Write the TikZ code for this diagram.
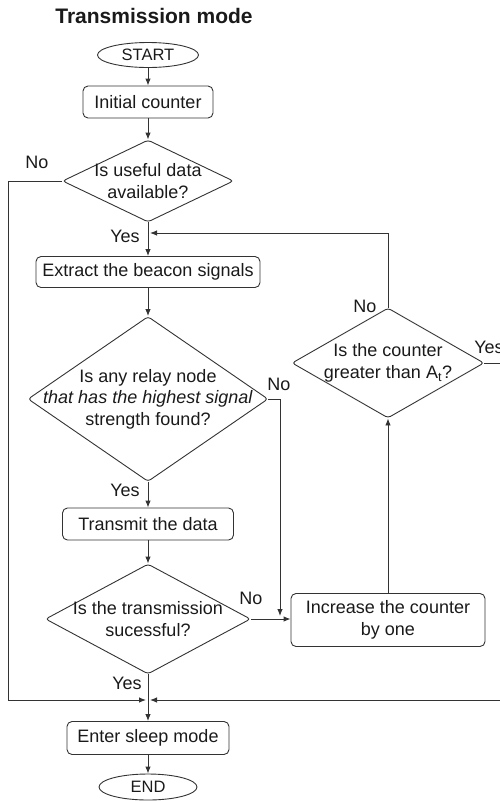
\documentclass[tikz,border=0pt]{standalone}
\usepackage{fontspec}
\setmainfont{Liberation Sans}
\usetikzlibrary{shapes.geometric,arrows.meta}
\definecolor{ln}{HTML}{333333}
\definecolor{txt}{HTML}{1A1A1A}
\begin{document}
\begin{tikzpicture}[x=1pt,y=-1pt,
  every node/.style={font=\fontsize{18}{21.5}\selectfont, text=txt},
  box/.style={draw=ln, line width=0.9pt, rounded corners=5pt, inner sep=0pt, align=center},
  term/.style={draw=ln, line width=0.9pt, ellipse, inner sep=0pt, font=\fontsize{16.5}{20}\selectfont},
  dia/.style={draw=ln, line width=0.9pt, diamond, rounded corners=3pt, inner sep=0pt},
  dtext/.style={align=center, inner sep=0pt},
  lbl/.style={inner sep=0pt},
  arr/.style={draw=ln, line width=0.9pt, -{Latex[length=7pt,width=5.5pt]}},
  ln/.style={draw=ln, line width=0.9pt}
]
\useasboundingbox (0,0) rectangle (500,801);
\clip (0,0) rectangle (500,801);

\node[font=\bfseries\fontsize{21}{25}\selectfont] (title) at (154,16) {Transmission mode};

\node[term, minimum width=101pt, minimum height=25pt] (start) at (148,55) {START};
\node[box, minimum width=130pt, minimum height=32pt] (init) at (148,102) {Initial counter};

\node[dia, minimum width=171pt, minimum height=82pt] (d1) at (148,181) {};
\node[dtext] (d1t) at (d1.center) {Is useful data\\available?};

\node[box, minimum width=224pt, minimum height=31pt] (extract) at (148,272) {Extract the beacon signals};

\node[dia, minimum width=240pt, minimum height=165pt] (d2) at (148,399) {};
\node[dtext] (d2t) at (d2.center) {Is any relay node\\\textit{that has the highest signal}\\strength found?};

\node[box, minimum width=171pt, minimum height=32pt] (transmit) at (148,524) {Transmit the data};

\node[dia, minimum width=205pt, minimum height=110pt] (d3) at (148,619) {};
\node[dtext] (d3t) at (d3.center) {Is the transmission\\sucessful?};

\node[box, minimum width=194pt, minimum height=53pt] (inc) at (388,620) {Increase the counter\\by one};

\node[dia, minimum width=192pt, minimum height=110pt] (d4) at (388,363) {};
\node[dtext] (d4t) at (d4.center) {Is the counter\\greater than A\textsubscript{t}?};

\node[box, minimum width=162pt, minimum height=33pt] (sleep) at (148,738) {Enter sleep mode};
\node[term, minimum width=98pt, minimum height=26pt] (end) at (148,787) {END};

% labels
\node[lbl] (l1) at (37,162) {No};
\node[lbl] (l2) at (125,236) {Yes};
\node[lbl] (l3) at (279,384) {No};
\node[lbl] (l4) at (125,490) {Yes};
\node[lbl] (l5) at (251,598) {No};
\node[lbl] (l6) at (127,683) {Yes};
\node[lbl] (l7) at (365,306) {No};
\node[lbl] (l8) at (489,347) {Yes};

% coordinates
\coordinate (merge) at (148,700);
\coordinate (lft) at (8,181);
\coordinate (rgt) at (512,363);
\coordinate (ret) at (148,233);
\coordinate (nd2) at (280,399);
\coordinate (jn) at (280,619);

% connectors
\draw[arr] (start) -- (init);
\draw[arr] (init) -- (d1);
\draw[arr] (d1) -- (extract);
\draw[arr] (extract) -- (d2);
\draw[arr] (d2) -- (transmit);
\draw[arr] (transmit) -- (d3);
\draw[arr] (d3.east) -- (d3.east -| inc.west);
\draw[arr, shorten >=3pt] (d2.east) -- (nd2) -- (jn);
\draw[arr] (inc) -- (d4);
\draw[arr, shorten >=2pt] (d4.north) |- (ret);
\draw[arr, shorten >=2pt] (d1.west) -- (lft) |- (merge);
\draw[arr, shorten >=2pt] (d4.east) -- (rgt) |- (merge);
\draw[ln] (d3.south) -- (merge);
\draw[arr] (merge) -- (sleep);
\draw[arr] (sleep) -- (end);
\end{tikzpicture}
\end{document}
